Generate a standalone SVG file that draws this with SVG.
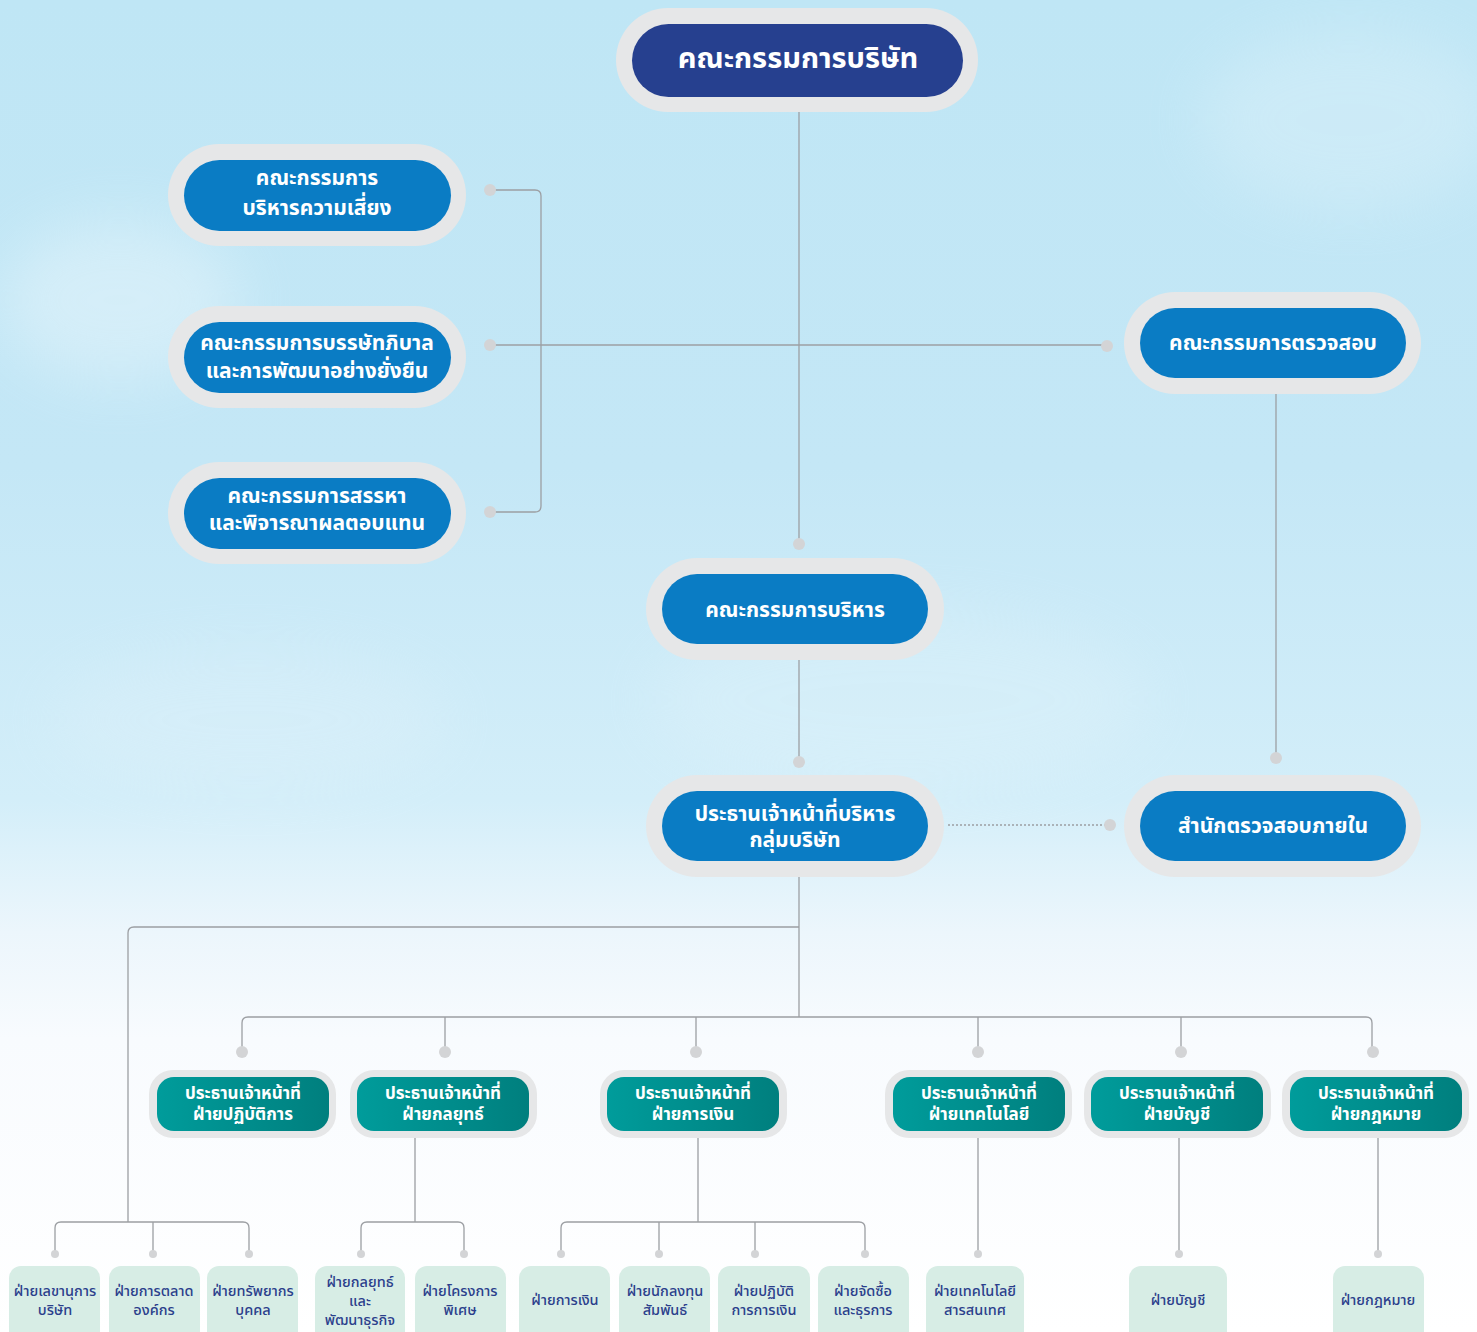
<svg xmlns="http://www.w3.org/2000/svg" width="1477" height="1332" viewBox="0 0 1477 1332">
<defs>
<linearGradient id="sky" x1="0" y1="0" x2="0" y2="1">
<stop offset="0" stop-color="#bfe6f5"/>
<stop offset="0.35" stop-color="#c4e7f6"/>
<stop offset="0.6" stop-color="#d3eef9"/>
<stop offset="0.7" stop-color="#ecf6fc"/>
<stop offset="0.78" stop-color="#f8fbfe"/>
<stop offset="1" stop-color="#ffffff"/>
</linearGradient>
<linearGradient id="teal" x1="0" y1="0" x2="1" y2="0">
<stop offset="0" stop-color="#009c9b"/>
<stop offset="1" stop-color="#007f7e"/>
</linearGradient>
<filter id="blur" x="-50%" y="-50%" width="200%" height="200%"><feGaussianBlur stdDeviation="30"/></filter>
<style>
.outer{fill:#e6e7e8}
.blue{fill:#0a7cc4}
.navy{fill:#26408f}
.tealbox{fill:url(#teal)}
.leaf{fill:#d7ede5}
.wt{fill:#ffffff;font-family:"Noto Sans Thai","Noto Sans","Liberation Sans",sans-serif;font-weight:700;text-anchor:middle;dominant-baseline:central}
.lt{fill:#2b3f8c;font-family:"Noto Sans Thai","Noto Sans","Liberation Sans",sans-serif;font-weight:500;font-size:14.5px;text-anchor:middle;dominant-baseline:central}
.ln{fill:none;stroke:#9c9fa3;stroke-width:1.3}
.dot{fill:#d3d4d6}
</style>
</defs>
<rect width="1477" height="1332" fill="url(#sky)"/>
<g filter="url(#blur)" opacity="0.3">
<ellipse cx="120" cy="300" rx="120" ry="80" fill="#ffffff"/>
<ellipse cx="1350" cy="120" rx="150" ry="90" fill="#e8f6fc"/>
<ellipse cx="900" cy="700" rx="250" ry="90" fill="#e4f4fb"/>
<ellipse cx="250" cy="720" rx="200" ry="70" fill="#e2f2fa"/>
</g>

<g id="connectors">
<path class="ln" d="M799 112 V544"/>
<path class="ln" d="M490 190 H535 Q541 190 541 196 V506 Q541 512 535 512 H490"/>
<path class="ln" d="M490 345 H1107"/>
<path class="ln" d="M799 660 V762"/>
<path class="ln" d="M1276 394 V758"/>
<path d="M948 825 H1110" fill="none" stroke="#9c9fa3" stroke-width="1.3" stroke-dasharray="2 2"/>
<path class="ln" d="M799 877 V1017"/>
<path class="ln" d="M799 927 H134 Q128 927 128 933 V1222"/>
<path class="ln" d="M248 1017 Q242 1017 242 1023 V1052"/>
<path class="ln" d="M248 1017 H1366 Q1372 1017 1372 1023 V1052"/>
<path class="ln" d="M445 1017 V1052 M696 1017 V1052 M978 1017 V1052 M1181 1017 V1052"/>
<path class="ln" d="M55 1254 V1228 Q55 1222 61 1222 H243 Q249 1222 249 1228 V1254 M153 1222 V1254"/>
<path class="ln" d="M415 1137 V1222 M361 1254 V1228 Q361 1222 367 1222 H458 Q464 1222 464 1228 V1254"/>
<path class="ln" d="M698 1137 V1222 M561 1254 V1228 Q561 1222 567 1222 H859 Q865 1222 865 1228 V1254 M659 1222 V1254 M755 1222 V1254"/>
<path class="ln" d="M978 1137 V1254 M1179 1137 V1254 M1378 1137 V1254"/>
<circle class="dot" cx="490" cy="190" r="6"/>
<circle class="dot" cx="490" cy="345" r="6"/>
<circle class="dot" cx="490" cy="512" r="6"/>
<circle class="dot" cx="1107" cy="346" r="6"/>
<circle class="dot" cx="799" cy="544" r="6"/>
<circle class="dot" cx="799" cy="762" r="6"/>
<circle class="dot" cx="1276" cy="758" r="6"/>
<circle class="dot" cx="1110" cy="825" r="6"/>
<circle class="dot" cx="242" cy="1052" r="6"/>
<circle class="dot" cx="445" cy="1052" r="6"/>
<circle class="dot" cx="696" cy="1052" r="6"/>
<circle class="dot" cx="978" cy="1052" r="6"/>
<circle class="dot" cx="1181" cy="1052" r="6"/>
<circle class="dot" cx="1373" cy="1052" r="6"/>
<circle class="dot" cx="55" cy="1254" r="4"/>
<circle class="dot" cx="153" cy="1254" r="4"/>
<circle class="dot" cx="249" cy="1254" r="4"/>
<circle class="dot" cx="361" cy="1254" r="4"/>
<circle class="dot" cx="464" cy="1254" r="4"/>
<circle class="dot" cx="561" cy="1254" r="4"/>
<circle class="dot" cx="659" cy="1254" r="4"/>
<circle class="dot" cx="755" cy="1254" r="4"/>
<circle class="dot" cx="865" cy="1254" r="4"/>
<circle class="dot" cx="978" cy="1254" r="4"/>
<circle class="dot" cx="1179" cy="1254" r="4"/>
<circle class="dot" cx="1378" cy="1254" r="4"/>
</g>

<g id="board">
<rect class="outer" x="616" y="8" width="362" height="104" rx="52"/>
<rect class="navy" x="632" y="24" width="331" height="73" rx="36.5"/>
<text class="wt" x="798" y="59" font-size="29">คณะกรรมการบริษัท</text>
</g>

<g id="risk">
<rect class="outer" x="168" y="144" width="298" height="102" rx="51"/>
<rect class="blue" x="184" y="160" width="267" height="71" rx="35.5"/>
<text class="wt" x="317" y="178" font-size="21">คณะกรรมการ</text>
<text class="wt" x="317" y="208" font-size="21">บริหารความเสี่ยง</text>
</g>

<g id="governance">
<rect class="outer" x="168" y="306" width="298" height="102" rx="51"/>
<rect class="blue" x="184" y="322" width="267" height="71" rx="35.5"/>
<text class="wt" x="317" y="343" font-size="21">คณะกรรมการบรรษัทภิบาล</text>
<text class="wt" x="317" y="371" font-size="21">และการพัฒนาอย่างยั่งยืน</text>
</g>

<g id="nomination">
<rect class="outer" x="168" y="462" width="298" height="102" rx="51"/>
<rect class="blue" x="184" y="478" width="267" height="71" rx="35.5"/>
<text class="wt" x="317" y="496" font-size="21">คณะกรรมการสรรหา</text>
<text class="wt" x="317" y="523" font-size="21">และพิจารณาผลตอบแทน</text>
</g>

<g id="audit">
<rect class="outer" x="1124" y="292" width="297" height="102" rx="51"/>
<rect class="blue" x="1140" y="308" width="266" height="70" rx="35"/>
<text class="wt" x="1273" y="343" font-size="21">คณะกรรมการตรวจสอบ</text>
</g>

<g id="executive">
<rect class="outer" x="646" y="558" width="298" height="102" rx="51"/>
<rect class="blue" x="662" y="574" width="266" height="70" rx="35"/>
<text class="wt" x="795" y="610" font-size="21">คณะกรรมการบริหาร</text>
</g>

<g id="ceo">
<rect class="outer" x="646" y="775" width="298" height="102" rx="51"/>
<rect class="blue" x="662" y="791" width="266" height="70" rx="35"/>
<text class="wt" x="795" y="814" font-size="21">ประธานเจ้าหน้าที่บริหาร</text>
<text class="wt" x="795" y="840" font-size="21">กลุ่มบริษัท</text>
</g>

<g id="internal-audit">
<rect class="outer" x="1124" y="775" width="297" height="102" rx="51"/>
<rect class="blue" x="1140" y="791" width="266" height="70" rx="35"/>
<text class="wt" x="1273" y="826" font-size="21">สำนักตรวจสอบภายใน</text>
</g>

<g id="coo">
<rect class="outer" x="149" y="1070" width="187" height="68" rx="24"/>
<rect class="tealbox" x="157" y="1077" width="172" height="54" rx="17"/>
<text class="wt" x="243" y="1094" font-size="17">ประธานเจ้าหน้าที่</text>
<text class="wt" x="243" y="1115" font-size="17">ฝ่ายปฏิบัติการ</text>
</g>

<g id="cso">
<rect class="outer" x="350" y="1070" width="187" height="68" rx="24"/>
<rect class="tealbox" x="357" y="1077" width="172" height="54" rx="17"/>
<text class="wt" x="443" y="1094" font-size="17">ประธานเจ้าหน้าที่</text>
<text class="wt" x="443" y="1115" font-size="17">ฝ่ายกลยุทธ์</text>
</g>

<g id="cfo">
<rect class="outer" x="600" y="1070" width="187" height="68" rx="24"/>
<rect class="tealbox" x="607" y="1077" width="172" height="54" rx="17"/>
<text class="wt" x="693" y="1094" font-size="17">ประธานเจ้าหน้าที่</text>
<text class="wt" x="693" y="1115" font-size="17">ฝ่ายการเงิน</text>
</g>

<g id="cto">
<rect class="outer" x="885" y="1070" width="187" height="68" rx="24"/>
<rect class="tealbox" x="893" y="1077" width="172" height="54" rx="17"/>
<text class="wt" x="979" y="1094" font-size="17">ประธานเจ้าหน้าที่</text>
<text class="wt" x="979" y="1115" font-size="17">ฝ่ายเทคโนโลยี</text>
</g>

<g id="cao">
<rect class="outer" x="1084" y="1070" width="187" height="68" rx="24"/>
<rect class="tealbox" x="1091" y="1077" width="172" height="54" rx="17"/>
<text class="wt" x="1177" y="1094" font-size="17">ประธานเจ้าหน้าที่</text>
<text class="wt" x="1177" y="1115" font-size="17">ฝ่ายบัญชี</text>
</g>

<g id="clo">
<rect class="outer" x="1282" y="1070" width="187" height="68" rx="24"/>
<rect class="tealbox" x="1290" y="1077" width="172" height="54" rx="17"/>
<text class="wt" x="1376" y="1094" font-size="17">ประธานเจ้าหน้าที่</text>
<text class="wt" x="1376" y="1115" font-size="17">ฝ่ายกฎหมาย</text>
</g>

<g id="d-secretary">
<rect class="leaf" x="9" y="1266" width="91" height="80" rx="12"/>
<text class="lt" x="55" y="1292">ฝ่ายเลขานุการ</text>
<text class="lt" x="55" y="1311">บริษัท</text>
</g>
<g id="d-marketing">
<rect class="leaf" x="109" y="1266" width="91" height="80" rx="12"/>
<text class="lt" x="154" y="1292">ฝ่ายการตลาด</text>
<text class="lt" x="154" y="1311">องค์กร</text>
</g>
<g id="d-hr">
<rect class="leaf" x="207" y="1266" width="91" height="80" rx="12"/>
<text class="lt" x="253" y="1292">ฝ่ายทรัพยากร</text>
<text class="lt" x="253" y="1311">บุคคล</text>
</g>
<g id="d-strategy">
<rect class="leaf" x="315" y="1266" width="90" height="80" rx="12"/>
<text class="lt" x="360" y="1283">ฝ่ายกลยุทธ์</text>
<text class="lt" x="360" y="1302">และ</text>
<text class="lt" x="360" y="1321">พัฒนาธุรกิจ</text>
</g>
<g id="d-projects">
<rect class="leaf" x="415" y="1266" width="91" height="80" rx="12"/>
<text class="lt" x="460" y="1292">ฝ่ายโครงการ</text>
<text class="lt" x="460" y="1311">พิเศษ</text>
</g>
<g id="d-finance">
<rect class="leaf" x="519" y="1266" width="91" height="80" rx="12"/>
<text class="lt" x="565" y="1301">ฝ่ายการเงิน</text>
</g>
<g id="d-ir">
<rect class="leaf" x="619" y="1266" width="91" height="80" rx="12"/>
<text class="lt" x="665" y="1292">ฝ่ายนักลงทุน</text>
<text class="lt" x="665" y="1311">สัมพันธ์</text>
</g>
<g id="d-finops">
<rect class="leaf" x="718" y="1266" width="92" height="80" rx="12"/>
<text class="lt" x="764" y="1292">ฝ่ายปฏิบัติ</text>
<text class="lt" x="764" y="1311">การการเงิน</text>
</g>
<g id="d-procurement">
<rect class="leaf" x="818" y="1266" width="91" height="80" rx="12"/>
<text class="lt" x="863" y="1292">ฝ่ายจัดซื้อ</text>
<text class="lt" x="863" y="1311">และธุรการ</text>
</g>
<g id="d-it">
<rect class="leaf" x="926" y="1266" width="98" height="80" rx="12"/>
<text class="lt" x="975" y="1292">ฝ่ายเทคโนโลยี</text>
<text class="lt" x="975" y="1311">สารสนเทศ</text>
</g>
<g id="d-accounting">
<rect class="leaf" x="1129" y="1266" width="98" height="80" rx="12"/>
<text class="lt" x="1178" y="1301">ฝ่ายบัญชี</text>
</g>
<g id="d-legal">
<rect class="leaf" x="1333" y="1266" width="91" height="80" rx="12"/>
<text class="lt" x="1378" y="1301">ฝ่ายกฎหมาย</text>
</g>
</svg>
